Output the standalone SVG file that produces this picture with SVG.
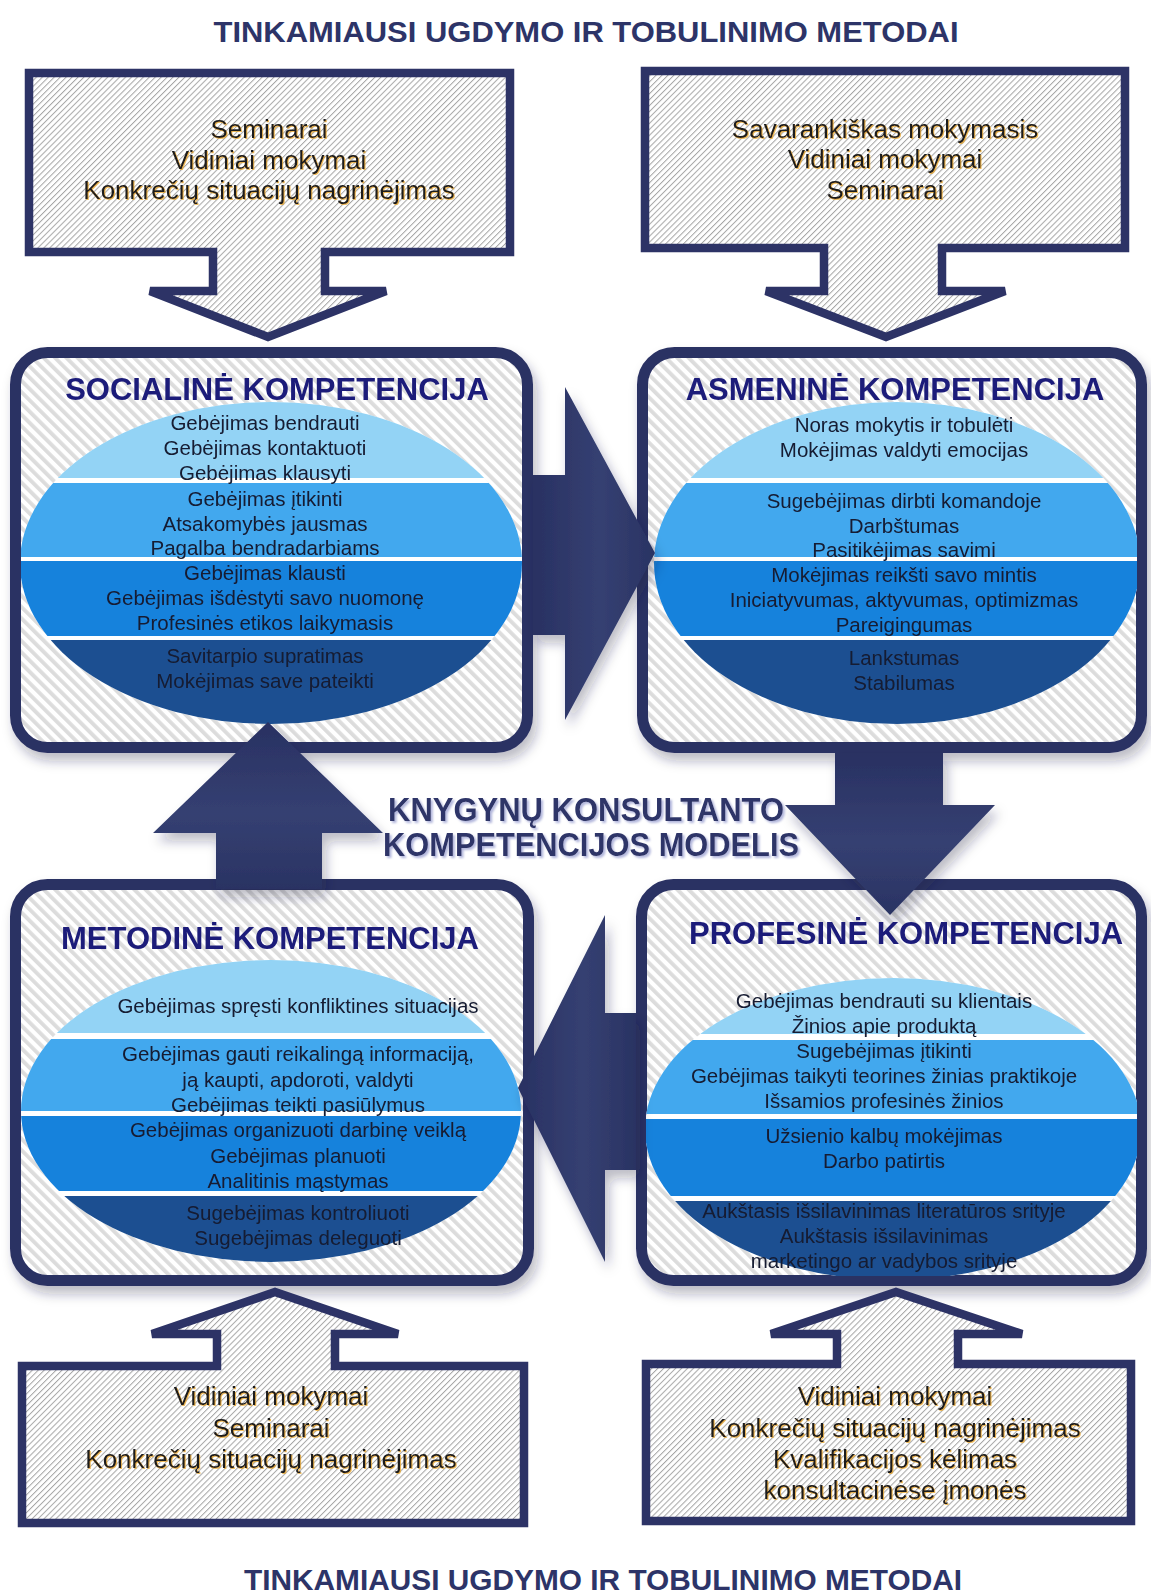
<svg xmlns="http://www.w3.org/2000/svg" width="1151" height="1596" viewBox="0 0 1151 1596">
<defs>
  <pattern id="hatchA" width="4.2" height="4.2" patternUnits="userSpaceOnUse" patternTransform="rotate(45)">
    <rect width="4.2" height="4.2" fill="#ffffff"/>
    <rect width="1" height="4.2" fill="#a6a6a6"/>
  </pattern>
  <pattern id="hatchB" width="8" height="8" patternUnits="userSpaceOnUse" patternTransform="rotate(-45)">
    <rect width="8" height="8" fill="#ffffff"/>
    <rect width="3.8" height="8" fill="#dcdcdc"/>
  </pattern>
  <linearGradient id="gH" x1="0" y1="0" x2="1" y2="0">
    <stop offset="0" stop-color="#293162"/>
    <stop offset="0.55" stop-color="#354072"/>
    <stop offset="1" stop-color="#2a3363"/>
  </linearGradient>
  <linearGradient id="gV" x1="0" y1="0" x2="0" y2="1">
    <stop offset="0" stop-color="#293162"/>
    <stop offset="0.55" stop-color="#354072"/>
    <stop offset="1" stop-color="#2a3363"/>
  </linearGradient>
  <filter id="sh" x="-10%" y="-10%" width="125%" height="125%">
    <feDropShadow dx="4" dy="8" stdDeviation="6" flood-color="#1a1f40" flood-opacity="0.3"/>
  </filter>
  <filter id="glow" x="-5%" y="-20%" width="110%" height="140%">
    <feDropShadow dx="1" dy="1" stdDeviation="0.4" flood-color="#e9a52c" flood-opacity="0.75"/>
  </filter>
  <filter id="tsh" x="-5%" y="-20%" width="110%" height="140%">
    <feDropShadow dx="2" dy="2" stdDeviation="1" flood-color="#a9aed8" flood-opacity="0.9"/>
  </filter>
  <clipPath id="cS"><ellipse cx="271" cy="563" rx="251" ry="161"/></clipPath>
  <clipPath id="cA"><ellipse cx="897" cy="563" rx="243" ry="161"/></clipPath>
  <clipPath id="cM"><ellipse cx="271" cy="1111" rx="250" ry="151"/></clipPath>
  <clipPath id="cP"><ellipse cx="893" cy="1129" rx="248" ry="151"/></clipPath>
  <clipPath id="iS"><rect x="21" y="357" width="502" height="386" rx="26"/></clipPath>
  <clipPath id="iA"><rect x="647" y="357" width="490" height="386" rx="26"/></clipPath>
  <clipPath id="iM"><rect x="21" y="889" width="503" height="387" rx="26"/></clipPath>
  <clipPath id="iP"><rect x="646" y="889" width="491" height="387" rx="26"/></clipPath>
</defs>
<style>
  .hd { font-family: "Liberation Sans", Arial, sans-serif; font-weight: bold; fill: #2d3468; text-anchor: middle; }
  .cal { fill: url(#hatchA); stroke: #2d3366; stroke-width: 8.5; stroke-linejoin: miter; }
  .ct { font-family: "Liberation Sans", Arial, sans-serif; font-size: 26px; fill: #1a1a1a; text-anchor: middle; }
  .panel { fill: url(#hatchB); stroke: #2b3163; stroke-width: 11; }
  .pt { font-family: "Liberation Sans", Arial, sans-serif; font-size: 31px; font-weight: bold; fill: #1c1c7a; text-anchor: middle; }
  .bt { font-family: "Liberation Sans", Arial, sans-serif; font-size: 20.5px; fill: #141a30; text-anchor: middle; }
  .b0 { fill: #ffffff; }
  .b1 { fill: #93d3f5; }
  .b2 { fill: #43a8ee; }
  .b3 { fill: #1982dc; }
  .b4 { fill: #1d5091; }
  .arr { filter: url(#sh); }
</style>

<rect width="1151" height="1596" fill="#ffffff"/>

<g id="title-top">
  <text class="hd" x="586" y="42" font-size="30" textLength="745" lengthAdjust="spacingAndGlyphs">TINKAMIAUSI UGDYMO IR TOBULINIMO METODAI</text>
</g>

<g id="callout-top-left">
  <path class="cal" d="M29,73 H510 V252 H325 V291 H386 L268,337 L150,291 H213 V252 H29 Z"/>
  <g filter="url(#glow)">
    <text class="ct" x="269" y="138">Seminarai</text>
    <text class="ct" x="269" y="169">Vidiniai mokymai</text>
    <text class="ct" x="269" y="199">Konkrečių situacijų nagrinėjimas</text>
  </g>
</g>

<g id="callout-top-right">
  <path class="cal" d="M645,71 H1125 V248 H942 V291 H1005 L886,337 L766,291 H824 V248 H645 Z"/>
  <g filter="url(#glow)">
    <text class="ct" x="885" y="138">Savarankiškas mokymasis</text>
    <text class="ct" x="885" y="168">Vidiniai mokymai</text>
    <text class="ct" x="885" y="199">Seminarai</text>
  </g>
</g>

<g id="socialine" filter="url(#sh)">
  <rect class="panel" x="15.5" y="352.5" width="512" height="395" rx="32"/>
  <g clip-path="url(#iS)">
    <g clip-path="url(#cS)">
      <rect class="b0" x="15" y="400" width="515" height="330"/>
      <rect class="b1" x="15" y="400" width="515" height="78"/>
      <rect class="b2" x="15" y="483" width="515" height="74"/>
      <rect class="b3" x="15" y="561" width="515" height="75"/>
      <rect class="b4" x="15" y="640" width="515" height="90"/>
    </g>
  </g>
  <text class="pt" x="277" y="400">SOCIALINĖ KOMPETENCIJA</text>
  <text class="bt" x="265" y="430">Gebėjimas bendrauti</text>
  <text class="bt" x="265" y="455">Gebėjimas kontaktuoti</text>
  <text class="bt" x="265" y="480">Gebėjimas klausyti</text>
  <text class="bt" x="265" y="506">Gebėjimas įtikinti</text>
  <text class="bt" x="265" y="531">Atsakomybės jausmas</text>
  <text class="bt" x="265" y="555">Pagalba bendradarbiams</text>
  <text class="bt" x="265" y="580">Gebėjimas klausti</text>
  <text class="bt" x="265" y="605">Gebėjimas išdėstyti savo nuomonę</text>
  <text class="bt" x="265" y="630">Profesinės etikos laikymasis</text>
  <text class="bt" x="265" y="663">Savitarpio supratimas</text>
  <text class="bt" x="265" y="688">Mokėjimas save pateikti</text>
</g>

<g id="asmenine" filter="url(#sh)">
  <rect class="panel" x="642.5" y="352.5" width="499" height="395" rx="32"/>
  <g clip-path="url(#iA)">
    <g clip-path="url(#cA)">
      <rect class="b0" x="640" y="400" width="510" height="330"/>
      <rect class="b1" x="640" y="400" width="510" height="78"/>
      <rect class="b2" x="640" y="483" width="510" height="74"/>
      <rect class="b3" x="640" y="561" width="510" height="75"/>
      <rect class="b4" x="640" y="640" width="510" height="90"/>
    </g>
  </g>
  <text class="pt" x="895" y="400">ASMENINĖ KOMPETENCIJA</text>
  <text class="bt" x="904" y="432">Noras mokytis ir tobulėti</text>
  <text class="bt" x="904" y="457">Mokėjimas valdyti emocijas</text>
  <text class="bt" x="904" y="508">Sugebėjimas dirbti komandoje</text>
  <text class="bt" x="904" y="533">Darbštumas</text>
  <text class="bt" x="904" y="557">Pasitikėjimas savimi</text>
  <text class="bt" x="904" y="582">Mokėjimas reikšti savo mintis</text>
  <text class="bt" x="904" y="607">Iniciatyvumas, aktyvumas, optimizmas</text>
  <text class="bt" x="904" y="632">Pareigingumas</text>
  <text class="bt" x="904" y="665">Lankstumas</text>
  <text class="bt" x="904" y="690">Stabilumas</text>
</g>

<g id="metodine" filter="url(#sh)">
  <rect class="panel" x="15.5" y="884.5" width="513" height="396" rx="32"/>
  <g clip-path="url(#iM)">
    <g clip-path="url(#cM)">
      <rect class="b0" x="15" y="955" width="515" height="320"/>
      <rect class="b1" x="15" y="955" width="515" height="78"/>
      <rect class="b2" x="15" y="1039" width="515" height="72"/>
      <rect class="b3" x="15" y="1116" width="515" height="75"/>
      <rect class="b4" x="15" y="1196" width="515" height="80"/>
    </g>
  </g>
  <text class="pt" x="270" y="949">METODINĖ KOMPETENCIJA</text>
  <text class="bt" x="298" y="1013">Gebėjimas spręsti konfliktines situacijas</text>
  <text class="bt" x="298" y="1061">Gebėjimas gauti reikalingą informaciją,</text>
  <text class="bt" x="298" y="1087">ją kaupti, apdoroti, valdyti</text>
  <text class="bt" x="298" y="1112">Gebėjimas teikti pasiūlymus</text>
  <text class="bt" x="298" y="1137">Gebėjimas organizuoti darbinę veiklą</text>
  <text class="bt" x="298" y="1163">Gebėjimas planuoti</text>
  <text class="bt" x="298" y="1188">Analitinis mąstymas</text>
  <text class="bt" x="298" y="1220">Sugebėjimas kontroliuoti</text>
  <text class="bt" x="298" y="1245">Sugebėjimas deleguoti</text>
</g>

<g id="profesine" filter="url(#sh)">
  <rect class="panel" x="641.5" y="884.5" width="500" height="396" rx="32"/>
  <g clip-path="url(#iP)">
    <g clip-path="url(#cP)">
      <rect class="b0" x="640" y="975" width="510" height="310"/>
      <rect class="b1" x="640" y="975" width="510" height="59"/>
      <rect class="b2" x="640" y="1040" width="510" height="74"/>
      <rect class="b3" x="640" y="1119" width="510" height="77"/>
      <rect class="b4" x="640" y="1201" width="510" height="85"/>
    </g>
  </g>
  <text class="pt" x="906" y="944">PROFESINĖ KOMPETENCIJA</text>
  <text class="bt" x="884" y="1008">Gebėjimas bendrauti su klientais</text>
  <text class="bt" x="884" y="1033">Žinios apie produktą</text>
  <text class="bt" x="884" y="1058">Sugebėjimas įtikinti</text>
  <text class="bt" x="884" y="1083">Gebėjimas taikyti teorines žinias praktikoje</text>
  <text class="bt" x="884" y="1108">Išsamios profesinės žinios</text>
  <text class="bt" x="884" y="1143">Užsienio kalbų mokėjimas</text>
  <text class="bt" x="884" y="1168">Darbo patirtis</text>
  <text class="bt" x="884" y="1218">Aukštasis išsilavinimas literatūros srityje</text>
  <text class="bt" x="884" y="1243">Aukštasis išsilavinimas</text>
  <text class="bt" x="884" y="1268">marketingo ar vadybos srityje</text>
</g>

<g id="connectors">
  <polygon class="arr" fill="url(#gH)" points="533,475 565,475 565,387 655,553 565,720 565,635 533,635"/>
  <polygon class="arr" fill="url(#gV)" points="835,753 943,753 943,805 995,805 890,915 785,805 835,805"/>
  <polygon class="arr" fill="url(#gV)" points="216,889 322,889 322,833 383,833 268,722 153,833 216,833"/>
  <polygon class="arr" fill="url(#gH)" points="636,1013 605,1013 605,915 518,1088 605,1262 605,1170 636,1170"/>
</g>

<g id="center-label" filter="url(#tsh)">
  <text class="hd" x="586" y="821" font-size="34" textLength="396" lengthAdjust="spacingAndGlyphs">KNYGYNŲ KONSULTANTO</text>
  <text class="hd" x="591" y="856" font-size="34" textLength="416" lengthAdjust="spacingAndGlyphs">KOMPETENCIJOS MODELIS</text>
</g>

<g id="callout-bottom-left">
  <path class="cal" d="M22,1523 H524 V1366 H335 V1334 H398 L275,1292 L152,1334 H217 V1366 H22 Z"/>
  <g filter="url(#glow)">
    <text class="ct" x="271" y="1405">Vidiniai mokymai</text>
    <text class="ct" x="271" y="1437">Seminarai</text>
    <text class="ct" x="271" y="1468">Konkrečių situacijų nagrinėjimas</text>
  </g>
</g>

<g id="callout-bottom-right">
  <path class="cal" d="M646,1521 H1131 V1364 H958 V1334 H1022 L896,1292 L771,1334 H837 V1364 H646 Z"/>
  <g filter="url(#glow)">
    <text class="ct" x="895" y="1405">Vidiniai mokymai</text>
    <text class="ct" x="895" y="1437">Konkrečių situacijų nagrinėjimas</text>
    <text class="ct" x="895" y="1468">Kvalifikacijos kėlimas</text>
    <text class="ct" x="895" y="1499">konsultacinėse įmonės</text>
  </g>
</g>

<g id="title-bottom">
  <text class="hd" x="603" y="1590" font-size="30" textLength="718" lengthAdjust="spacingAndGlyphs">TINKAMIAUSI UGDYMO IR TOBULINIMO METODAI</text>
</g>
</svg>
